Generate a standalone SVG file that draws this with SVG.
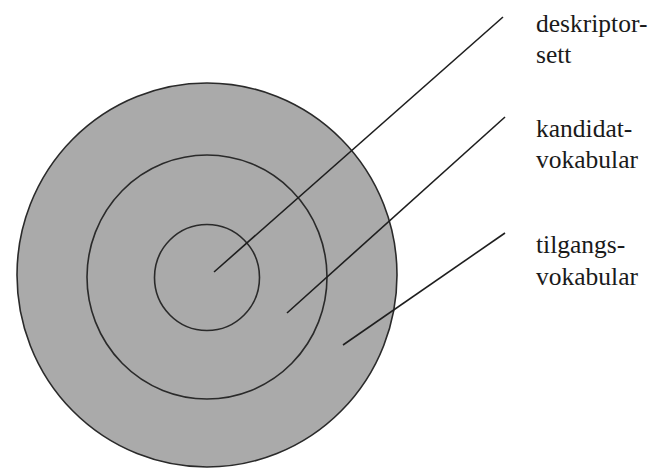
<svg xmlns="http://www.w3.org/2000/svg" width="654" height="469" viewBox="0 0 654 469">
<style>
.ring{fill:none;stroke:#2a2a2a;stroke-width:1.6}
.disc{fill:#aaaaaa;stroke:#2a2a2a;stroke-width:1.6}
.lead{stroke:#1e1e1e;stroke-width:1.6;fill:none}
text{font-family:"Liberation Serif","Times New Roman",serif;font-size:25.5px;fill:#1a1a1a}
</style>
<rect width="654" height="469" fill="#ffffff"/>
<g id="tilgangsvokabular-disc"><ellipse class="disc" cx="207" cy="275" rx="190" ry="192"/></g>
<g id="kandidatvokabular-ring"><ellipse class="ring" cx="207" cy="277" rx="120" ry="122"/></g>
<g id="deskriptorsett-ring"><ellipse class="ring" cx="207" cy="277.5" rx="52.5" ry="53"/></g>
<g id="connectors">
<line class="lead" x1="214" y1="272" x2="503" y2="17"/>
<line class="lead" x1="287" y1="313" x2="505" y2="117"/>
<line class="lead" x1="343" y1="345" x2="505" y2="233"/>
</g>
<g id="label-deskriptorsett"><text x="536" y="32">deskriptor-</text><text x="536" y="63">sett</text></g>
<g id="label-kandidatvokabular"><text x="536" y="137">kandidat-</text><text x="536" y="168">vokabular</text></g>
<g id="label-tilgangsvokabular"><text x="536" y="253">tilgangs-</text><text x="536" y="285">vokabular</text></g>
</svg>
